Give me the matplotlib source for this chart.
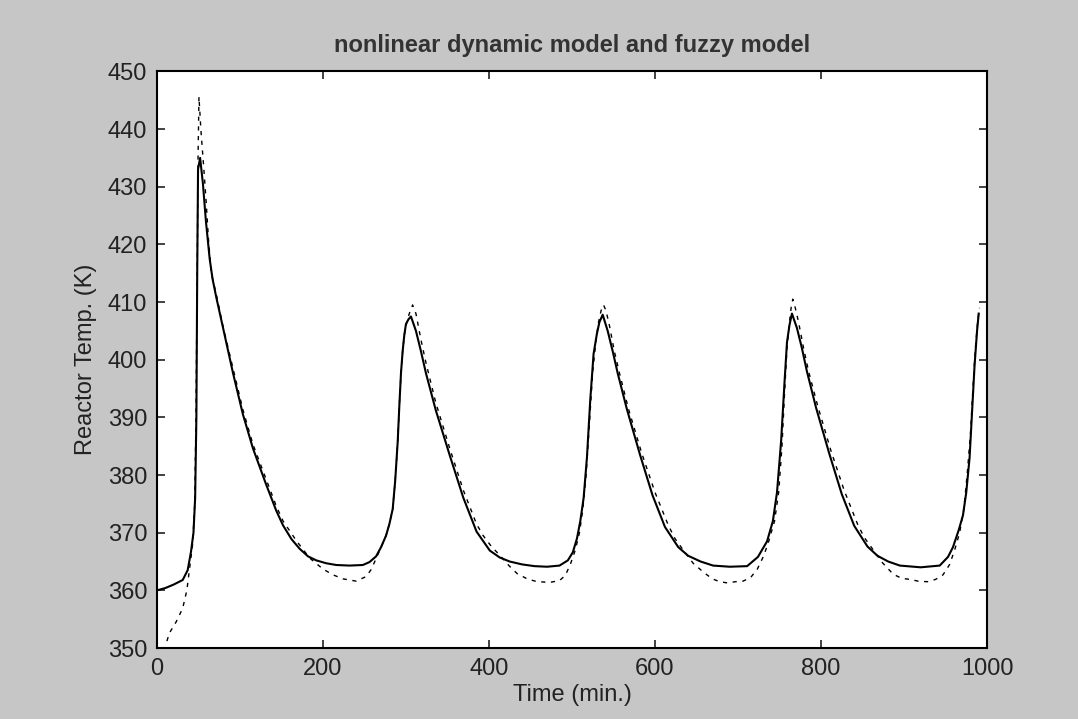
import matplotlib.pyplot as plt

# nonlinear dynamic model (solid), one list per cycle
model_t1 = [0, 10, 20, 31, 37, 41, 44, 46, 47.5, 48.5, 49.5, 52, 55.4, 59, 63.5, 67, 71.5,
            81.5, 91.6, 103.6, 115.7, 131.7, 143.8, 151.8, 162, 172, 182, 192, 204, 216, 232,
            248, 256, 264, 270, 276, 280, 284, 287, 290, 292, 294, 296, 298, 300, 303, 306]
model_T1 = [360, 360.4, 361, 361.8, 363.5, 366.7, 370, 376, 390, 415, 433, 435, 430.5, 424,
            417.5, 414, 410.8, 404.3, 397.7, 390.5, 384.6, 378.3, 373.8, 371.3, 368.9, 367.2,
            365.9, 365.2, 364.7, 364.4, 364.3, 364.4, 364.9, 365.9, 367.5, 369.5, 371.5, 374.1,
            379, 385.7, 392, 397.7, 401.5, 404.3, 406.2, 407, 407.5]
model_t2 = [312, 318, 324, 336, 353, 369, 385, 401, 413, 425, 440, 455, 470, 485, 495, 501,
            506, 510, 514, 518, 522, 526, 530, 533, 537]
model_T2 = [405, 401.5, 397.7, 391.2, 383.3, 376.1, 370.2, 366.9, 365.7, 365, 364.5, 364.2,
            364.1, 364.3, 365.2, 366.6, 369, 372, 376, 383, 393, 401, 404.5, 406.5, 407.8]
model_t3 = [543, 549, 555, 566, 582, 597, 612, 628, 640, 655, 670, 690, 711, 724, 735, 742,
            747, 752, 756, 759, 762, 765]
model_T3 = [405, 401.5, 397.7, 391.5, 383.5, 376.5, 371, 367.5, 366, 365, 364.3, 364.1, 364.2,
            365.8, 368.5, 372, 377, 386, 396, 403, 406, 408]
model_t4 = [771, 777, 783, 794, 810, 825, 840, 856, 868, 881, 895, 920, 943, 953, 959, 966,
            971, 975, 979, 982, 985, 988, 990]
model_T4 = [405.5, 402, 398, 391.7, 383.7, 376.7, 371.2, 367.6, 366, 365, 364.3, 364.0, 364.3,
            365.8, 367.5, 370.5, 373, 377, 383, 391, 399, 405, 408]

# fuzzy model (dashed)
fuzzy_t1 = [12, 15, 23, 31, 36, 39, 43, 45.5, 47, 48.5, 49.5, 50.6, 53, 56, 59, 62, 65.5, 72,
            80, 91.6, 103.6, 115.7, 131.7, 143.8, 152, 168, 184, 200, 212, 224, 240, 252, 258,
            264, 270, 276, 280, 284, 287, 290, 292, 294, 296, 298, 301, 304, 308]
fuzzy_T1 = [351.2, 352.6, 354.5, 356.9, 360, 363.4, 368, 375, 390, 415, 435, 445.6, 439.7,
            434, 428, 421, 415, 411, 405.5, 398.5, 391.3, 385.3, 379.2, 374.6, 372, 368.6,
            365.6, 363.7, 362.7, 362, 361.6, 362.4, 363.6, 365.5, 367.5, 369.5, 371.5, 374.1,
            379, 385.7, 392, 397.7, 401.5, 404.3, 406.5, 408, 409.5]
fuzzy_t2 = [312, 318, 324, 336, 353, 369, 385, 393, 403, 413, 424, 434, 446, 458, 474, 485,
            492, 498, 504, 509, 513, 517, 521, 525, 529, 532, 535, 538]
fuzzy_T2 = [408, 403.5, 399.5, 392.5, 384.5, 377.4, 371.5, 369.5, 367.6, 366.1, 364.3, 362.9,
            362, 361.5, 361.4, 361.7, 362.6, 364.5, 367, 370, 374, 380, 389, 398, 403.5, 406.5,
            408.5, 409.5]
fuzzy_t3 = [541, 545, 551, 557, 568, 584, 600, 616, 624, 634, 646, 658, 669, 678, 687, 697,
            706, 715, 723, 731, 737, 744, 749, 753, 756, 759, 762, 764, 766]
fuzzy_T3 = [408.5, 406, 401.5, 397.8, 391.5, 383.8, 377, 371.3, 369, 367, 364.7, 363.2, 362,
            361.5, 361.3, 361.5, 361.6, 362.2, 363.6, 366, 368.5, 372, 377, 385, 394, 402,
            406.5, 409, 410.5]
fuzzy_t4 = [769, 773, 779, 785, 796, 812, 828, 844, 852, 862, 874, 887, 897, 907, 917, 928,
            938, 947, 955, 961, 967, 972, 976, 980, 983, 986, 989, 991]
fuzzy_T4 = [409, 406.5, 402, 398, 392, 384.2, 377.3, 371.5, 369.2, 367.2, 364.8, 362.8, 362.1,
            361.9, 361.6, 361.5, 361.9, 362.7, 364.5, 367, 370, 374, 380, 387, 395, 402, 407,
            409]

t_model = model_t1 + model_t2 + model_t3 + model_t4
T_model = model_T1 + model_T2 + model_T3 + model_T4
t_fuzzy = fuzzy_t1 + fuzzy_t2 + fuzzy_t3 + fuzzy_t4
T_fuzzy = fuzzy_T1 + fuzzy_T2 + fuzzy_T3 + fuzzy_T4

fig = plt.figure(figsize=(10.78, 7.19), dpi=100)
fig.patch.set_facecolor("#c6c6c6")
ax = fig.add_axes([0.1456, 0.0987, 0.770, 0.802])
ax.set_facecolor("white")

ax.plot(t_model, T_model, color="black", linewidth=1.5)
ax.plot(t_fuzzy, T_fuzzy, color="black", linewidth=1.0, linestyle=(0, (3, 4)))

ax.set_xlim(0, 1000)
ax.set_ylim(350, 450)
ax.set_xticks(range(0, 1001, 200))
ax.set_yticks(range(350, 451, 10))

font = "Liberation Sans"
ax.tick_params(direction="in", length=6, width=1.2, top=True, right=True,
               labelsize=17, colors="#222222", pad=7)
for lbl in ax.get_xticklabels() + ax.get_yticklabels():
    lbl.set_family(font)
for s in ax.spines.values():
    s.set_linewidth(1.5)

ax.set_title("nonlinear dynamic model and fuzzy model", family=font, fontsize=17,
             fontweight="bold", color="#333333", pad=14)
ax.set_xlabel("Time (min.)", family=font, fontsize=17, color="#222222", labelpad=3)
ax.set_ylabel("Reactor Temp. (K)", family=font, fontsize=17, color="#222222", labelpad=8)

plt.savefig("out.png", dpi=100, facecolor=fig.get_facecolor())
